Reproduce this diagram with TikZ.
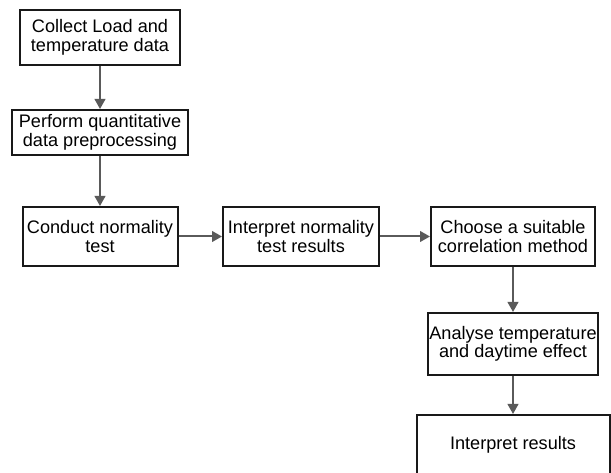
\documentclass[tikz,border=0pt]{standalone}
\usepackage{fontspec}
\setmainfont{Liberation Sans}
\usetikzlibrary{arrows.meta}
\definecolor{arrowgray}{HTML}{5A5A5A}
\tikzset{
  box/.style={draw=black!90, line width=1.5pt, fill=white, inner sep=0pt, align=center,
    font=\fontsize{13.6pt}{13.8pt}\selectfont},
  conn/.style={draw=arrowgray, line width=1.5pt, -{Triangle[length=7.5pt,width=8pt]}}
}
\begin{document}
\begin{tikzpicture}[x=0.75pt,y=-0.75pt]
\useasboundingbox (0,0) rectangle (611,473);
\clip (0,0) rectangle (611,473);
\node[box, minimum width=120pt, minimum height=41.25pt] (b1) at (100,37.5) {Collect Load and\\temperature data};
\node[box, minimum width=132pt, minimum height=33.75pt] (b2) at (100,132.5) {Perform quantitative\\data preprocessing};
\node[box, minimum width=116.25pt, minimum height=44.25pt] (b3) at (100,236.5) {Conduct normality\\test};
\node[box, minimum width=117pt, minimum height=44.25pt] (b4) at (301,236.5) {Interpret normality\\test results};
\node[box, minimum width=123pt, minimum height=44.25pt] (b5) at (513,236.5) {Choose a suitable\\correlation method};
\node[box, minimum width=127.5pt, minimum height=46.5pt] (b6) at (513,344) {Analyse temperature\\and daytime effect};
\node[box, minimum width=144.75pt, minimum height=45pt] (b7) at (513,445) {Interpret results};
\draw[conn] (b1.south) -- (b2.north);
\draw[conn] (b2.south) -- (b3.north);
\draw[conn] (b3.east) -- (b4.west);
\draw[conn] (b4.east) -- (b5.west);
\draw[conn] (b5.south) -- (b6.north);
\draw[conn] (b6.south) -- (b7.north);
\end{tikzpicture}
\end{document}
